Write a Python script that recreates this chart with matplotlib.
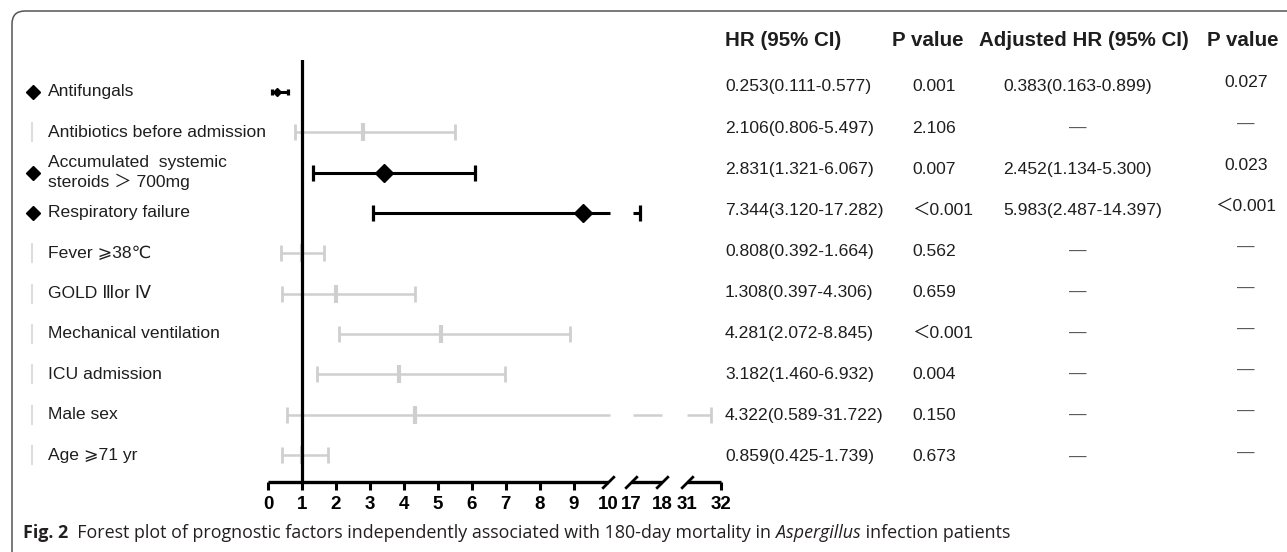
import numpy as np
import matplotlib
matplotlib.use('Agg')
import matplotlib.pyplot as plt
from matplotlib.patches import FancyBboxPatch
from matplotlib.transforms import blended_transform_factory, IdentityTransform

plt.rcParams['font.family'] = ['Liberation Sans', 'DejaVu Sans', 'Noto Sans CJK SC']

# --- data -------------------------------------------------------------
labels = ["Antifungals", "Antibiotics before admission",
          "Accumulated  systemic\nsteroids ＞ 700mg", "Respiratory failure",
          "Fever ⩾38℃", "GOLD Ⅲor Ⅳ", "Mechanical ventilation",
          "ICU admission", "Male sex", "Age ⩾71 yr"]
significant = [True, False, True, True, False, False, False, False, False, False]

# positions of the drawn marks
ci_low = [0.111, 0.79, 1.32, 3.09, 0.38, 0.41, 2.09, 1.44, 0.56, 0.41]
point = [0.253, 2.79, 3.41, 9.26, 1.0, 2.0, 5.09, 3.85, 4.32, 1.0]
ci_high = [0.577, 5.5, 6.09, 17.28, 1.65, 4.32, 8.88, 6.97, 31.72, 1.76]

hr_text = ["0.253(0.111-0.577)", "2.106(0.806-5.497)", "2.831(1.321-6.067)",
           "7.344(3.120-17.282)", "0.808(0.392-1.664)", "1.308(0.397-4.306)",
           "4.281(2.072-8.845)", "3.182(1.460-6.932)", "4.322(0.589-31.722)",
           "0.859(0.425-1.739)"]
p_text = ["0.001", "2.106", "0.007", "＜0.001", "0.562", "0.659", "＜0.001",
          "0.004", "0.150", "0.673"]
adj_text = ["0.383(0.163-0.899)", "—", "2.452(1.134-5.300)", "5.983(2.487-14.397)",
            "—", "—", "—", "—", "—", "—"]
adj_p_text = ["0.027", "—", "0.023", "＜0.001", "—", "—", "—", "—", "—", "—"]

tick_values = [0, 1, 2, 3, 4, 5, 6, 7, 8, 9, 10, 17, 18, 31, 32]
break_ticks = [10, 17, 18, 31]
axis_pieces = [(0, 10), (17, 18), (31, 32)]
bar_pieces = [(0, 10.05), (17.07, 18.0), (31.0, 32.0)]

# broken x axis: 0-10, 17-18, 31-32
brk_in = [0, 10.3, 17, 18, 31, 32]
brk_out = [0, 10.3, 10.68, 11.6, 12.33, 13.33]


def fwd(v):
    return np.interp(v, brk_in, brk_out)


def inv(v):
    return np.interp(v, brk_out, brk_in)


W, H = 1287, 552
fig = plt.figure(figsize=(W / 100, H / 100), dpi=100)
ax = fig.add_axes([268 / W, 1 - 482 / H, 453 / W, 422 / H])
ax.set_xscale('function', functions=(fwd, inv))
ax.set_xlim(0, 32)
n = len(labels)
step = (455 - 92) / (n - 1)
ax.set_ylim((482 - 92) / step, (60 - 92) / step)
for s in ax.spines.values():
    s.set_visible(False)
ax.set_yticks([])

grey = '#cfcfcf'
for i in range(n):
    col = 'black' if significant[i] else grey
    lw = 2.2 if significant[i] else 1.8
    small = ci_high[i] - ci_low[i] < 1
    for a, b in bar_pieces:
        lo, hi = max(ci_low[i], a), min(ci_high[i], b)
        if hi > lo:
            ax.plot([lo, hi], [i, i], color=col, lw=lw, solid_capstyle='butt', clip_on=False)
    ax.plot([ci_low[i], ci_high[i]], [i, i], ls='none', marker='|',
            ms=5 if small else 12,
            mew=2.3 if significant[i] else 2, color=col, clip_on=False)
    if significant[i]:
        ax.plot(point[i], i, marker='D', ms=4 if small else 9, color='black', ls='none', clip_on=False)
    else:
        ax.plot(point[i], i, marker='|', ms=13, mew=3, color=grey, ls='none')

ax.axvline(1, color='black', lw=2.3, zorder=5)

# axis line with breaks
xt = ax.get_xaxis_transform()
for a, b in axis_pieces:
    ax.plot([a, b], [0, 0], transform=xt, color='black', lw=2.4,
            solid_capstyle='butt', clip_on=False)
ax.plot(break_ticks, [0] * len(break_ticks), transform=xt, ls='none',
        marker=[(-1, -1), (1, 1)], ms=9, mew=2, color='black', clip_on=False)

ax.set_xticks(tick_values)
ax.set_xticklabels([str(v) for v in tick_values], fontweight='bold', fontsize=13.5)
ax.tick_params(axis='x', length=6, width=2.2, pad=4, color='black')
for t, v in zip(ax.xaxis.get_major_ticks(), tick_values):
    if v in break_ticks:
        t.tick1line.set_visible(False)

# row labels and table
tr = blended_transform_factory(fig.transFigure, ax.transData)
txt = '#1e1e1e'
fs = 12.6
# table rows sit on a slightly wider pitch than the plot rows
trow = [(87 + 41.1 * i - 92) / step for i in range(n)]
for i in range(n):
    if significant[i]:
        ax.plot(33 / W, i, marker='D', ms=7, color='black', transform=tr, clip_on=False)
    else:
        ax.plot(32 / W, i, marker='|', ms=14, mew=1.5, color='#dddddd', transform=tr, clip_on=False)
    ax.text(48 / W, i, labels[i], transform=tr, va='center', ha='left',
            fontsize=fs, color=txt, linespacing=1.25, clip_on=False)
    ax.text(725 / W, trow[i], hr_text[i], transform=tr, va='center', ha='left',
            fontsize=fs, color=txt, clip_on=False)
    ax.text(912 / W, trow[i], p_text[i], transform=tr, va='center', ha='left',
            fontsize=fs, color=txt, clip_on=False)
    if adj_text[i] == '—':
        ax.text(1078 / W, trow[i], adj_text[i], transform=tr, va='center', ha='center',
                fontsize=fs, color='#555555', clip_on=False)
    else:
        ax.text(1003 / W, trow[i], adj_text[i], transform=tr, va='center', ha='left',
                fontsize=fs, color=txt, clip_on=False)
    ax.text(1246 / W, trow[i] - 0.1, adj_p_text[i], transform=tr, va='center', ha='center',
            fontsize=fs, color=txt if adj_p_text[i] != '—' else '#555555', clip_on=False)

headers = [("HR (95% CI)", 725), ("P value", 892), ("Adjusted HR (95% CI)", 979), ("P value", 1207)]
for h, x in headers:
    fig.text(x / W, 1 - 40 / H, h, fontsize=14.8, fontweight='bold', va='center', ha='left', color=txt)

# frame
frame = FancyBboxPatch((12, -80), 1500, H - 11 + 80, boxstyle='round,pad=0,rounding_size=13',
                       transform=IdentityTransform(), fill=False, ec='#555555', lw=1.1)
fig.add_artist(frame)

# caption
r = fig.canvas.get_renderer()
cap_parts = [("Fig. 2", dict(fontweight='bold')),
             ("  Forest plot of prognostic factors independently associated with 180-day mortality in ", {}),
             ("Aspergillus", dict(style='italic')),
             (" infection patients", {})]
x = 23
for s, kw in cap_parts:
    t = fig.text(x / W, 1 - 533 / H, s, fontsize=12.9, family='Open Sans', va='center',
                 ha='left', color='#231f20', **kw)
    x = t.get_window_extent(r).x1

fig.savefig('out.png', dpi=100)
